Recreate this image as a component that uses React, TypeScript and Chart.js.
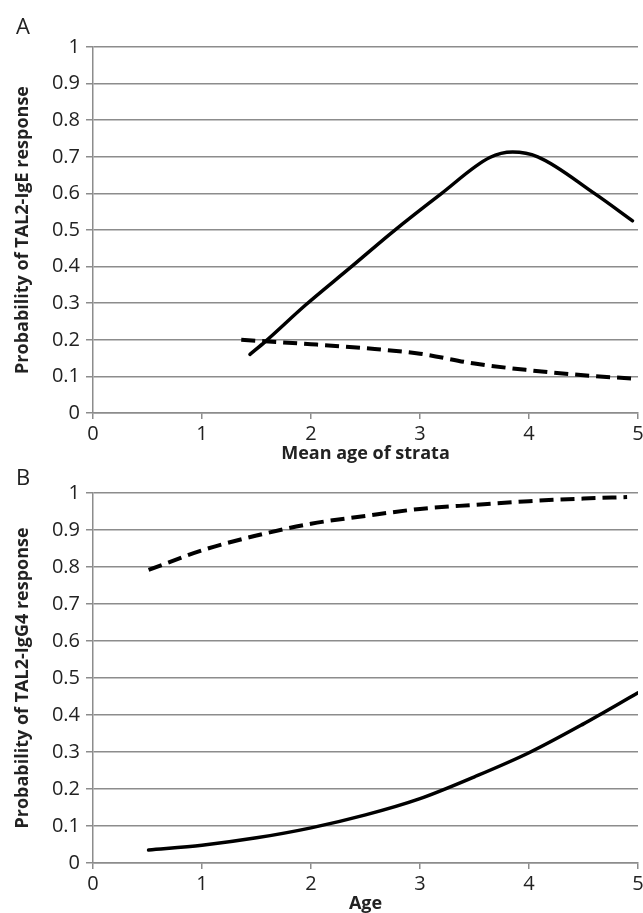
import React, { useEffect, useRef } from "react";
import { Chart, registerables } from "chart.js";

Chart.register(...registerables);

// Panel A: probability of TAL2-IgE response vs mean age of strata
const igeSolidX = [1.44, 1.58, 1.95, 2.36, 2.75, 3.19, 3.64, 3.85, 4.08, 4.6, 4.95];
const igeSolidY = [0.16, 0.195, 0.295, 0.397, 0.495, 0.598, 0.698, 0.713, 0.7, 0.6, 0.525];
const igeDashX = [1.36, 2, 2.5, 3, 3.5, 4, 4.5, 4.95];
const igeDashY = [0.2, 0.188, 0.177, 0.162, 0.135, 0.117, 0.103, 0.094];

// Panel B: probability of TAL2-IgG4 response vs age
const igg4SolidX = [0.51, 1, 1.5, 2, 2.5, 3, 3.5, 4, 4.5, 5];
const igg4SolidY = [0.035, 0.048, 0.068, 0.095, 0.13, 0.174, 0.233, 0.298, 0.376, 0.46];
const igg4DashX = [0.51, 1, 1.5, 2, 2.5, 3, 3.5, 4, 4.5, 4.9];
const igg4DashY = [0.792, 0.845, 0.885, 0.917, 0.938, 0.957, 0.968, 0.978, 0.985, 0.989];

const xMin = 0;
const xMax = 5;
const xStep = 1;
const yMin = 0;
const yMax = 1;
const yStep = 0.1;

const FONT = "'Open Sans', 'Liberation Sans', sans-serif";
const GRID = "#8c8c8c";
const TEXT = "#222222";

function pts(xs: number[], ys: number[]) {
  return xs.map((x, i) => ({ x, y: ys[i] }));
}

type PanelProps = {
  letter: string;
  top: number;
  height: number;
  chartTop: number;
  chartBottom: number;
  xTitle: string;
  yTitle: string;
  xTitlePad: number;
  solid: { x: number; y: number }[];
  dashed: { x: number; y: number }[];
  letterTop: number;
};

function Panel(p: PanelProps) {
  const ref = useRef<HTMLCanvasElement | null>(null);
  useEffect(() => {
    if (!ref.current) return;
    const chart = new Chart(ref.current, {
      type: "line",
      data: {
        datasets: [
          {
            data: p.solid,
            borderColor: "#000",
            borderWidth: 3.5,
            pointRadius: 0,
            fill: false,
            cubicInterpolationMode: "monotone",
            borderCapStyle: "round",
          },
          {
            data: p.dashed,
            borderColor: "#000",
            borderWidth: 4,
            borderDash: [14, 7],
            pointRadius: 0,
            fill: false,
            cubicInterpolationMode: "monotone",
          },
        ],
      },
      options: {
        animation: false,
        responsive: false,
        parsing: false as any,
        layout: { padding: { top: p.chartTop, left: 0, right: 5, bottom: 0 } },
        plugins: { legend: { display: false }, tooltip: { enabled: false } },
        scales: {
          x: {
            type: "linear",
            min: xMin,
            max: xMax,
            ticks: {
              stepSize: xStep,
              color: TEXT,
              font: { family: FONT, size: 20 },
              padding: 3,
              maxRotation: 0,
            },
            grid: {
              drawOnChartArea: false,
              drawTicks: true,
              tickLength: 6,
              color: GRID,
              lineWidth: 1.5,
            },
            border: { color: GRID, width: 1.5 },
            title: {
              display: true,
              text: p.xTitle,
              color: TEXT,
              font: { family: FONT, size: 18, weight: "bold", lineHeight: 1 },
              padding: { top: 0, bottom: p.xTitlePad },
            },
            afterFit: (s: any) => {
              s.height = p.height - p.chartBottom;
              s.paddingRight = 0;
              s.paddingLeft = 0;
            },
          },
          y: {
            type: "linear",
            min: yMin,
            max: yMax,
            ticks: {
              stepSize: yStep,
              color: TEXT,
              font: { family: FONT, size: 20 },
              padding: 6,
              callback: (v: any) => String(Math.round(Number(v) * 10) / 10),
            },
            grid: {
              drawTicks: true,
              tickLength: 7,
              color: GRID,
              lineWidth: 1.5,
            },
            border: { color: GRID, width: 1.5 },
            title: {
              display: true,
              text: p.yTitle,
              color: TEXT,
              font: { family: FONT, size: 18, weight: "bold", lineHeight: 1 },
              padding: { top: 14, bottom: 0 },
            },
            afterFit: (s: any) => {
              s.width = 93;
            },
          },
        },
      },
    } as any);
    return () => chart.destroy();
  }, []);
  return (
    <>
      <canvas
        ref={ref}
        width={643}
        height={p.height}
        style={{ position: "absolute", left: 0, top: p.top, width: 643, height: p.height }}
      />
      <div
        style={{
          position: "absolute",
          left: 16,
          top: p.letterTop,
          fontFamily: FONT,
          fontSize: 22,
          lineHeight: "22px",
          color: TEXT,
        }}
      >
        {p.letter}
      </div>
    </>
  );
}

export default function App() {
  return (
    <div style={{ position: "absolute", left: 0, top: 0, width: 643, height: 913, background: "#fff" }}>
      <Panel
        letter="A"
        top={0}
        height={465}
        chartTop={47}
        chartBottom={413}
        xTitle="Mean age of strata"
        yTitle="Probability of TAL2-IgE response"
        xTitlePad={2}
        solid={pts(igeSolidX, igeSolidY)}
        dashed={pts(igeDashX, igeDashY)}
        letterTop={14}
      />
      <Panel
        letter="B"
        top={465}
        height={448}
        chartTop={28}
        chartBottom={398}
        xTitle="Age"
        yTitle="Probability of TAL2-IgG4 response"
        xTitlePad={0}
        solid={pts(igg4SolidX, igg4SolidY)}
        dashed={pts(igg4DashX, igg4DashY)}
        letterTop={465}
      />
    </div>
  );
}
